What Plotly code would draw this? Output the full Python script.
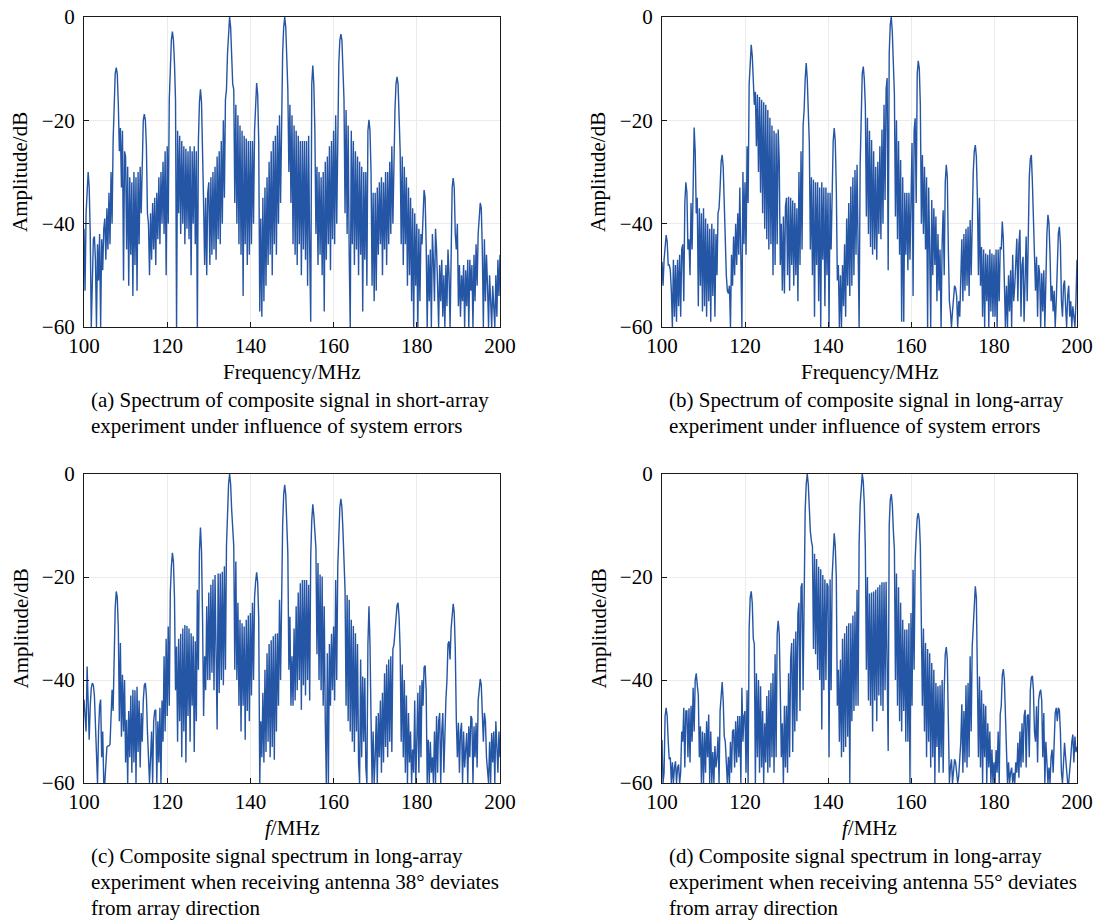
import numpy as np
import plotly.graph_objects as go

FREQ_START = 100.0
FREQ_STEP = 0.25

amp_a = [
    -41, -53, -38, -32, -30, -33, -42, -60, -47, -43, -42.5, -47, -60, -44, -51, -42, -60, -43, -49, -41,
    -39, -47, -37, -45, -34, -44, -30, -40, -24, -18, -11, -9.8, -11, -17, -26, -21.5, -33, -22, -51, -26,
    -27, -45, -29, -52, -31, -46, -32, -54, -30, -48, -31, -53, -30, -44, -29, -38, -24, -20, -18.8, -20,
    -25, -38, -40, -50, -38, -47, -36, -45, -35, -48, -34, -43, -31, -44, -30, -40, -28, -42, -26, -50,
    -25, -40, -16, -9, -4.5, -2.8, -4.5, -9, -16, -60, -22, -38, -23, -42, -24, -40, -25, -44, -25.5, -41,
    -26, -43, -25, -50, -26, -40, -25, -44, -26, -60, -24, -16.5, -14, -16.5, -24, -36, -48, -35, -50, -34,
    -32, -48, -31, -46, -30, -45, -29, -47, -27, -43, -26, -44, -24, -40, -20, -35, -16, -14, -7, -2,
    0, -2, -7, -13, -14, -36, -17, -40, -19, -44, -21, -46, -22, -54, -23, -44, -23.5, -48, -24, -46,
    -24, -44, -24, -40, -22, -15, -12.8, -15, -24, -57, -39, -58, -35, -55, -33, -52, -31, -48, -28, -46,
    -26, -50, -24, -44, -23, -46, -21, -40, -19, -36, -14, -7, -2, 0, -2, -7, -14, -30, -17, -36,
    -19, -44, -21, -46, -22, -48, -23, -44, -24, -50, -24, -45, -24, -47, -24, -52, -23, -45, -59, -13,
    -9.4, -13, -22, -42, -29, -48, -30, -46, -31, -50, -30, -57, -28, -47, -27, -44, -25, -49, -24, -43,
    -22, -44, -19, -40, -16, -9, -4.5, -3.3, -4.5, -9, -16, -38, -18, -42, -21, -46, -60, -22, -44, -24,
    -48, -26, -45, -27, -50, -28, -46, -29, -57, -30, -47, -30, -52, -22, -19.9, -22, -30, -52, -34, -55,
    -34, -53, -33, -46, -32, -44, -31, -50, -32, -45, -30, -48, -30, -44, -28, -42, -25, -40, -24, -18,
    -13, -11.6, -13, -18, -26, -44, -27, -48, -29, -44, -31, -52, -33, -50, -35, -55, -37, -60, -38, -52,
    -40, -60, -41, -55, -42, -44, -36, -33.5, -35, -44, -60, -46, -55, -45, -60, -42, -47, -55, -41, -45,
    -52, -60, -48, -55, -47, -58, -50, -60, -48, -56, -45, -50, -60, -42, -33, -31.2, -33, -42, -45, -40,
    -56, -48, -58, -50, -55, -48, -60, -49, -56, -47, -60, -47, -53, -48, -60, -46, -55, -44, -52, -42,
    -39, -36, -37, -45, -60, -43, -55, -46, -52, -60, -50, -55, -60, -52, -58, -60, -50, -58, -47, -54,
    -46,
]

amp_b = [
    -47.4, -52, -47, -44, -42.2, -43.5, -48, -48, -49, -53, -60, -47, -58, -48, -59, -47, -56, -46, -58, -45,
    -44, -55, -36, -32, -34, -45, -43, -50, -36, -45, -28, -21.4, -26, -38, -35, -56, -37, -52, -38, -57,
    -37, -56, -39, -58, -40, -55, -41, -59, -40, -54, -41, -58, -42, -50, -38, -37, -33, -28, -26.7, -29,
    -36, -47, -50, -53, -53.5, -52, -60, -46, -52, -42.5, -50, -40, -48, -38, -46, -33, -45, -60, -30, -44,
    -32, -46, -25, -36, -13, -7.5, -5.4, -7.5, -12.8, -17, -14.5, -25, -15, -30, -15.5, -34, -16, -38, -16.5, -41,
    -17, -43, -18, -45, -19.5, -44, -21, -50, -22, -48, -22.5, -44, -21.8, -28, -48, -40, -53, -38.6, -53.5, -36.7,
    -35, -50, -34.8, -53, -35, -48, -35.5, -52, -36, -50, -37, -55, -30, -48, -26, -45, -21, -18, -12, -8.9,
    -12, -18, -24.4, -45, -31, -50, -31.5, -58, -32, -48, -32, -55, -33, -60, -32, -47, -33, -56, -33, -50,
    -34, -60, -34, -45, -30, -24, -21.5, -24, -33, -51, -48, -60, -50, -60, -48, -56, -44, -58, -39, -52,
    -36, -54, -32.8, -52, -31, -50, -29.6, -46, -28.6, -50, -60, -28.6, -18, -11, -9.6, -12, -17.3, -38.6, -19.5, -42,
    -22, -44.5, -23.8, -46, -26, -45, -29, -47, -28, -42, -25, -43, -21.8, -40, -17, -35.4, -14, -11.8, -49, -7,
    -1.5, 0, -3, -9, -15, -38.6, -20, -43, -24, -46, -27.7, -59, -31, -59, -34, -46, -34, -49, -34, -47,
    -30, -24.4, -54, -22, -19.6, -36, -11, -8.5, -10, -17, -40, -26.7, -42, -29, -45, -31, -60, -33, -45, -60,
    -35.4, -50, -37, -48, -38.6, -55, -42, -53, -45, -60, -44, -37.4, -50, -32, -28.6, -31, -45, -55, -57, -60,
    -57, -54, -52, -52.5, -54, -60, -55, -58, -47, -43, -55, -42, -53, -41, -52, -40.6, -54, -39.3, -50, -38,
    -30, -26, -24.8, -27, -35, -50, -35, -52, -44.5, -58, -45, -60, -45.8, -55, -46, -60, -45, -57, -45.8, -58,
    -46, -58, -45, -60, -45, -55, -44.5, -45, -39.6, -43, -55, -60, -52, -60, -50, -57, -49, -60, -46, -55,
    -52, -45, -42.9, -55, -44, -41.2, -58, -48, -46.4, -59, -46, -42.5, -55, -37.4, -31, -27.5, -26.7, -32, -40, -43,
    -53, -46.4, -58, -48, -49.6, -60, -49.6, -57, -49, -60, -46.4, -42, -38.3, -40, -46, -55, -52, -57, -53, -60,
    -55, -48, -42, -40.6, -44, -55, -58, -52, -51, -56, -60, -54, -52, -58, -55, -60, -56, -58, -60, -55,
    -47,
]

amp_c = [
    -43.8, -47, -50, -37.4, -45, -51.6, -45, -41.5, -40.6, -41, -43, -50, -55, -60, -50, -45, -43.8, -55, -50, -60,
    -60, -55, -53, -52.8, -52.8, -52.5, -48, -41.9, -46, -33, -26, -22.8, -24, -30, -48, -32.8, -51, -39, -50, -40,
    -56, -47.7, -60, -46, -55, -43, -58, -41.9, -56, -42, -60, -41.3, -54, -44, -57, -46.4, -52, -44, -41, -40.6,
    -43, -50, -55, -60, -55, -50, -60, -48, -46, -45.8, -60, -48, -56, -45.4, -60, -44, -52, -35.4, -50, -32,
    -47, -29.6, -45, -23, -18, -15.3, -17, -24, -42, -33.5, -52, -32, -48, -31, -55, -30, -50, -29.3, -56, -29.5,
    -47, -30, -52, -30.9, -45, -31.5, -54, -32.5, -48, -22.5, -38, -15, -10.4, -15, -28, -47, -35.4, -42, -25.7, -40,
    -23, -40, -21.5, -38.6, -20.5, -42, -19.6, -40, -49.6, -19.3, -42.5, -19.3, -40, -19, -41, -17.9, -38, -14, -7, -2,
    0, -2, -7, -12.1, -14, -38, -17, -40, -25, -45, -28.3, -50, -29, -45, -29.6, -51.6, -28.3, -46, -27.5, -48,
    -27, -43, -25, -40, -24, -21, -19.1, -21, -28, -60, -48, -55, -42.5, -56, -38, -54, -34.8, -52, -33, -55,
    -32.3, -53, -31.5, -55.5, -31, -50, -30.9, -45, -24.4, -40, -17.6, -10, -4, -2.1, -4, -10, -15.4, -38, -27.7, -45,
    -35.4, -45, -30, -44, -25.7, -42, -23, -40, -21.2, -45.8, -20.6, -41, -20.6, -43, -20.6, -40, -21.5, -44, -16, -9,
    -5.9, -8, -13, -14.4, -35, -17.3, -40, -19.5, -42, -19.9, -45, -25.7, -48, -60, -34.8, -60, -33, -45, -31, -42,
    -29.6, -44, -20.6, -40, -18, -11, -6.5, -4.8, -6.5, -11, -18, -22.5, -45, -23.5, -48, -24.4, -50, -28.3, -52, -29.5,
    -54, -30.9, -50, -33, -56, -60, -36, -55, -39.3, -52, -39.6, -57, -60, -33, -25.7, -33, -47.7, -60, -50, -60,
    -55, -47, -60, -46.4, -55, -44, -58, -42.5, -56, -38.7, -53, -37, -55, -36, -52, -35.4, -54, -34, -33.2, -30,
    -27, -25.5, -25, -28, -34.1, -52, -37, -55, -40, -58, -43, -60, -46.4, -56, -50, -60, -53.5, -58, -44, -60,
    -52, -42.5, -58, -41, -55, -40, -45, -37.5, -37.2, -42, -60, -51.6, -60, -52, -58, -55, -60, -50, -60, -47,
    -58, -48, -46.4, -60, -50, -46.4, -58, -47, -43.8, -40, -33, -32.5, -36, -30, -26.5, -25.2, -27, -34, -47.7, -55,
    -48.3, -58, -50, -48.3, -60, -50, -57, -52, -50.3, -60, -49, -55, -47, -47.5, -60, -49, -55, -48.3, -57, -44,
    -41, -39.8, -41, -48, -52, -46.4, -48, -55, -58, -60, -52, -60, -50.3, -56, -50, -60, -48, -55, -58, -50,
    -55,
]

amp_d = [
    -51.6, -60, -58, -47, -45.4, -47, -52, -55.4, -55, -60, -56, -60, -57, -55.8, -60, -57, -56.4, -60, -58, -50,
    -52, -45.4, -57, -46, -46, -55, -45.5, -56, -45, -52, -41.5, -50, -40, -38.7, -41, -42.9, -55, -49, -60, -50,
    -60, -50.3, -58, -48, -55, -46.7, -60, -50, -60, -54, -60, -52.8, -57, -55, -51, -60, -46, -42, -40.4, -44,
    -50.9, -52, -56, -60, -54.9, -60, -52, -58, -50, -49.6, -57, -48, -56, -47, -55, -47, -60, -41.5, -52, -47,
    -46, -58, -42, -60, -30, -24, -22.8, -25, -32, -33, -60, -38.7, -55, -40, -58, -41.2, -57, -46, -60, -48.4,
    -56, -43.1, -58, -42, -57, -40.6, -55, -38.7, -58, -35, -55, -31, -28.5, -31, -42, -55, -48.4, -60, -45, -57,
    -45, -58, -38.7, -55, -36, -32.8, -54, -32, -50, -30.6, -48, -27, -25, -46, -22, -21.2, -42, -16, -7, -2,
    0, -2, -7, -11.2, -13, -14.1, -34, -15.5, -35, -16.5, -38, -18, -40, -18.5, -49.6, -19.6, -42, -20.5, -40, -21.2,
    -21.8, -55, -20.5, -42, -19.9, -14, -11.5, -14, -20, -45, -38, -52, -36, -55, -32, -54, -30.9, -53, -29.5, -51,
    -29, -60, -29, -48, -27.5, -46, -26.7, -45, -22.5, -45, -13.4, -6, -1.5, 0, -1.5, -6, -14.7, -38, -20, -44,
    -23.2, -45, -23, -50, -22.8, -44, -22.5, -48, -22, -43, -21.5, -45, -21, -46, -21, -42, -20.9, -44, -53.8, -10,
    -5, -3.9, -6, -11, -14.7, -40, -19.3, -45, -22, -48, -25, -50, -28.3, -46, -30.2, -52, -30.2, -52, -29, -60,
    -27, -45, -18.6, -38, -16.7, -12, -8.5, -7.6, -9, -14, -25.7, -45, -30, -50, -32.8, -55, -34, -52, -34.8, -57,
    -36.7, -55, -38, -60, -40.6, -53, -41.2, -58, -41, -55, -40, -58, -42, -35, -33.6, -36, -48, -60, -57, -55.4,
    -60, -57, -55.4, -56, -58, -60, -58.7, -55, -52, -44.7, -58, -46, -56, -41, -57, -40.6, -55, -35.4, -50, -33.5,
    -30, -24, -21.8, -24, -36.7, -55, -39.3, -57, -42, -60, -44.6, -55, -45, -60, -48.4, -57, -50, -60, -53.5, -60,
    -56, -60, -53.6, -58, -50, -60, -46.7, -45, -39, -37.9, -40, -48, -55.8, -60, -56, -60, -58, -57, -60, -58,
    -60, -56, -58, -52.2, -59, -50, -57, -48.4, -56, -47, -45.8, -57, -47, -46.7, -55, -42, -39.5, -39.2, -42, -50,
    -52, -45.1, -56, -44, -42.5, -41.9, -44, -55, -46.4, -60, -52, -55.1, -60, -57, -60, -55, -53.5, -58, -50, -46.4,
    -45.4, -48, -45.4, -45.8, -50, -58, -60, -55, -52.2, -55, -58, -60, -60, -58, -55, -52, -50.6, -56, -51, -54,
    -53,
]

x_ticks = [100, 120, 140, 160, 180, 200]
x_tick_labels = ["100", "120", "140", "160", "180", "200"]
y_ticks = [-60, -40, -20, 0]
y_tick_labels = ["\u221260", "\u221240", "\u221220", "0"]
y_title = "Amplitude/dB"
x_titles = ["Frequency/MHz", "Frequency/MHz", "<i>f</i>/MHz", "<i>f</i>/MHz"]
captions = [
    ["(a) Spectrum of composite signal in short-array",
     "experiment under influence of system errors"],
    ["(b) Spectrum of composite signal in long-array",
     "experiment under influence of system errors"],
    ["(c) Composite signal spectrum in long-array",
     "experiment when receiving antenna 38° deviates",
     "from array direction"],
    ["(d) Composite signal spectrum in long-array",
     "experiment when receiving antenna 55° deviates",
     "from array direction"],
]
series = [amp_a, amp_b, amp_c, amp_d]

# ---------------- layout geometry (pixels)
W, H = 1096, 921
boxes = [  # left, right, top, bottom of each plotting area
    (84, 500, 17, 327),
    (662, 1077, 17, 327),
    (84, 500, 474, 783),
    (662, 1077, 474, 783),
]
FONT = "Liberation Serif, Times New Roman, serif"
LINE = "#2555a5"
AXC = "#1a1a1a"


def px(x):
    return x / W


def py(y):
    return 1 - y / H


fig = go.Figure()
layout = dict(
    width=W, height=H, autosize=False,
    margin=dict(l=0, r=0, t=0, b=0, pad=0, autoexpand=False),
    paper_bgcolor="white", plot_bgcolor="white",
    showlegend=False,
    font=dict(family=FONT, size=21, color="black"),
)
annotations = []

for i, (vals, (l, r, t, b)) in enumerate(zip(series, boxes)):
    n = i + 1
    freqs = FREQ_START + FREQ_STEP * np.arange(len(vals))
    fig.add_trace(go.Scatter(
        x=freqs, y=vals, mode="lines",
        line=dict(color=LINE, width=1.4),
        xaxis=f"x{n}", yaxis=f"y{n}", hoverinfo="skip",
    ))
    common = dict(
        ticks="inside", ticklen=5, tickwidth=1, tickcolor=AXC,
        showline=True, linecolor=AXC, linewidth=1.3, mirror=True,
        showgrid=True, gridcolor="#ebebeb", gridwidth=1,
        zeroline=False, automargin=False,
        tickfont=dict(family=FONT, size=21, color="black"),
    )
    layout[f"xaxis{n}"] = dict(
        domain=[px(l), px(r)], anchor=f"y{n}", range=[100, 200],
        tickvals=x_ticks, ticktext=x_tick_labels, **common,
    )
    layout[f"yaxis{n}"] = dict(
        domain=[py(b), py(t)], anchor=f"x{n}", range=[-60, 0],
        tickvals=y_ticks, ticktext=y_tick_labels, ticklabelstandoff=4, **common,
    )
    cx = (l + r) / 2
    cy = (t + b) / 2
    # y axis title
    annotations.append(dict(
        text=y_title, x=px(l - 64), y=py(cy), xref="paper", yref="paper",
        textangle=-90, showarrow=False, xanchor="center", yanchor="middle",
        font=dict(family=FONT, size=21, color="black"),
    ))
    # x axis title
    annotations.append(dict(
        text=x_titles[i], x=px(cx), y=py(b + 45), xref="paper", yref="paper",
        showarrow=False, xanchor="center", yanchor="middle",
        font=dict(family=FONT, size=21, color="black"),
    ))
    # caption lines
    for k, line in enumerate(captions[i]):
        annotations.append(dict(
            text=line, x=px(l + 5), y=py(b + 73 + 26 * k), xref="paper", yref="paper",
            showarrow=False, xanchor="left", yanchor="middle",
            font=dict(family=FONT, size=21, color="black"),
        ))

layout["annotations"] = annotations
fig.update_layout(**layout)
fig.write_html("out.html")
